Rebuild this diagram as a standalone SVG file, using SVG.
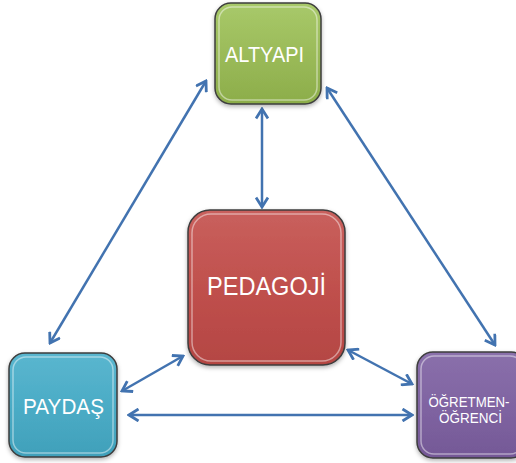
<svg xmlns="http://www.w3.org/2000/svg" width="516" height="463" viewBox="0 0 516 463">
<style>
.box{stroke:#3d3d3d;stroke-width:1.5}
.hl{fill:none;stroke:#ffffff;stroke-opacity:0.45;stroke-width:1.5}
.lbl{fill:#ffffff;font-family:"Liberation Sans",Arial,sans-serif;text-anchor:middle}
.conn{fill:none;stroke:#4273b0;stroke-width:2.5;marker-start:url(#ah);marker-end:url(#ah)}
</style>
<defs>
<marker id="ah" markerUnits="userSpaceOnUse" viewBox="-12 -7 14 14" refX="0" refY="0" markerWidth="14" markerHeight="14" orient="auto-start-reverse">
<path d="M-9.5,-6 L0,0 L-9.5,6" fill="none" stroke="#4273b0" stroke-width="2.8" stroke-linejoin="miter"/>
</marker>
<linearGradient id="gG" x1="0" y1="0" x2="0" y2="1"><stop offset="0" stop-color="#a8c96a"/><stop offset="0.5" stop-color="#9bbb59"/><stop offset="1" stop-color="#8cad4a"/></linearGradient>
<linearGradient id="gR" x1="0" y1="0" x2="0" y2="1"><stop offset="0" stop-color="#c9605d"/><stop offset="0.5" stop-color="#c0504d"/><stop offset="1" stop-color="#b44643"/></linearGradient>
<linearGradient id="gB" x1="0" y1="0" x2="0" y2="1"><stop offset="0" stop-color="#5ab6cf"/><stop offset="0.5" stop-color="#4bacc6"/><stop offset="1" stop-color="#40a0ba"/></linearGradient>
<linearGradient id="gP" x1="0" y1="0" x2="0" y2="1"><stop offset="0" stop-color="#8a70ab"/><stop offset="0.5" stop-color="#8064a2"/><stop offset="1" stop-color="#745896"/></linearGradient>
<filter id="sh" x="-20%" y="-20%" width="140%" height="140%"><feDropShadow dx="0" dy="2" stdDeviation="2" flood-color="#000" flood-opacity="0.3"/></filter>
</defs>
<g id="connectors">
<line class="conn" x1="206" y1="81" x2="50" y2="343"/>
<line class="conn" x1="327" y1="88" x2="495" y2="345"/>
<line class="conn" x1="262" y1="109" x2="262" y2="207"/>
<line class="conn" x1="183" y1="356" x2="122" y2="391"/>
<line class="conn" x1="348" y1="350" x2="412" y2="384"/>
<line class="conn" x1="129" y1="415" x2="412" y2="415"/>
</g>
<g id="altyapi">
<rect class="box" x="215" y="3" width="106" height="101" rx="16" fill="url(#gG)" filter="url(#sh)"/>
<rect class="hl" x="219" y="7" width="98" height="93" rx="13"/>
<text class="lbl" x="264.5" y="62" font-size="22" textLength="79" lengthAdjust="spacingAndGlyphs">ALTYAPI</text>
</g>
<g id="pedagoji">
<rect class="box" x="188" y="210" width="157" height="155" rx="22" fill="url(#gR)" filter="url(#sh)"/>
<rect class="hl" x="192" y="214" width="149" height="147" rx="19"/>
<text class="lbl" x="266.5" y="295" font-size="26" textLength="119" lengthAdjust="spacingAndGlyphs">PEDAGOJİ</text>
</g>
<g id="paydas">
<rect class="box" x="9" y="353" width="108" height="104" rx="16" fill="url(#gB)" filter="url(#sh)"/>
<rect class="hl" x="13" y="357" width="100" height="96" rx="13"/>
<text class="lbl" x="63.5" y="414" font-size="22" textLength="81" lengthAdjust="spacingAndGlyphs">PAYDAŞ</text>
</g>
<g id="ogretmen-ogrenci">
<rect class="box" x="417" y="352" width="110" height="106" rx="16" fill="url(#gP)" filter="url(#sh)"/>
<rect class="hl" x="421" y="356" width="102" height="98" rx="13"/>
<text class="lbl" x="469" y="407" font-size="14.5" textLength="81" lengthAdjust="spacingAndGlyphs">ÖĞRETMEN-</text>
<text class="lbl" x="470.5" y="423" font-size="14.5" textLength="63" lengthAdjust="spacingAndGlyphs">ÖĞRENCİ</text>
</g>
</svg>
